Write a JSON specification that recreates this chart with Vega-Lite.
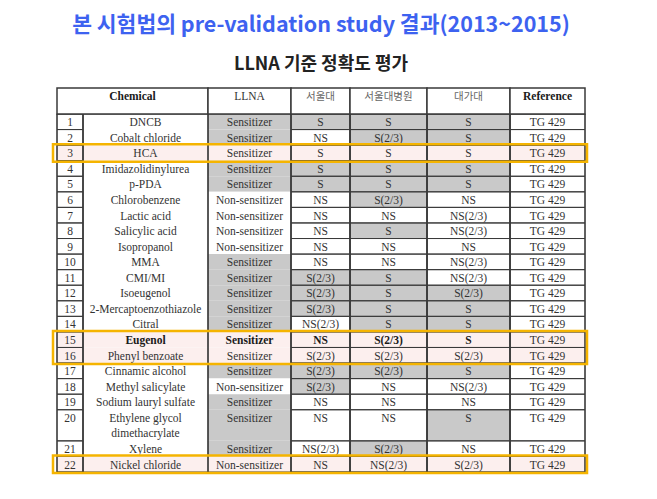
{
  "$schema": "https://vega.github.io/schema/vega-lite/v6.json",
  "width": 528,
  "height": 384,
  "autosize": {"type": "none"},
  "padding": {"left": 57, "top": 88, "right": 72, "bottom": 27},
  "background": "#ffffff",
  "config": {"view": {"stroke": null}},
  "title": {
    "text": "본 시험법의 pre-validation study 결과(2013~2015)",
    "subtitle": "LLNA 기준 정확도 평가",
    "anchor": "middle",
    "font": "Noto Sans CJK KR",
    "fontSize": 21.5,
    "fontWeight": "bold",
    "color": "#3d62f0",
    "subtitleFont": "Noto Sans CJK KR",
    "subtitleFontSize": 18,
    "subtitleFontWeight": "bold",
    "subtitleColor": "#222222",
    "subtitlePadding": 20,
    "offset": 13
  },
  "datasets": {
    "chemicals": [
      {"no": 1, "chemical": "DNCB", "llna": "Sensitizer", "snu": "S", "snuh": "S", "cu": "S", "ref": "TG 429", "lines": 1, "box": null, "bold": false},
      {"no": 2, "chemical": "Cobalt  chloride", "llna": "Sensitizer", "snu": "NS", "snuh": "S(2/3)", "cu": "S", "ref": "TG 429", "lines": 1, "box": null, "bold": false},
      {"no": 3, "chemical": "HCA", "llna": "Sensitizer", "snu": "S", "snuh": "S", "cu": "S", "ref": "TG 429", "lines": 1, "box": "A", "bold": false},
      {"no": 4, "chemical": "Imidazolidinylurea", "llna": "Sensitizer", "snu": "S", "snuh": "S", "cu": "S", "ref": "TG 429", "lines": 1, "box": null, "bold": false},
      {"no": 5, "chemical": "p-PDA", "llna": "Sensitizer", "snu": "S", "snuh": "S", "cu": "S", "ref": "TG 429", "lines": 1, "box": null, "bold": false},
      {"no": 6, "chemical": "Chlorobenzene", "llna": "Non-sensitizer", "snu": "NS", "snuh": "S(2/3)", "cu": "NS", "ref": "TG 429", "lines": 1, "box": null, "bold": false},
      {"no": 7, "chemical": "Lactic  acid", "llna": "Non-sensitizer", "snu": "NS", "snuh": "NS", "cu": "NS(2/3)", "ref": "TG 429", "lines": 1, "box": null, "bold": false},
      {"no": 8, "chemical": "Salicylic  acid", "llna": "Non-sensitizer", "snu": "NS", "snuh": "S", "cu": "NS(2/3)", "ref": "TG 429", "lines": 1, "box": null, "bold": false},
      {"no": 9, "chemical": "Isopropanol", "llna": "Non-sensitizer", "snu": "NS", "snuh": "NS", "cu": "NS", "ref": "TG 429", "lines": 1, "box": null, "bold": false},
      {"no": 10, "chemical": "MMA", "llna": "Sensitizer", "snu": "NS", "snuh": "NS", "cu": "NS(2/3)", "ref": "TG 429", "lines": 1, "box": null, "bold": false},
      {"no": 11, "chemical": "CMI/MI", "llna": "Sensitizer", "snu": "S(2/3)", "snuh": "S", "cu": "NS(2/3)", "ref": "TG 429", "lines": 1, "box": null, "bold": false},
      {"no": 12, "chemical": "Isoeugenol", "llna": "Sensitizer", "snu": "S(2/3)", "snuh": "S", "cu": "S(2/3)", "ref": "TG 429", "lines": 1, "box": null, "bold": false},
      {"no": 13, "chemical": "2-Mercaptoenzothiazole", "llna": "Sensitizer", "snu": "S(2/3)", "snuh": "S", "cu": "S", "ref": "TG 429", "lines": 1, "box": null, "bold": false},
      {"no": 14, "chemical": "Citral", "llna": "Sensitizer", "snu": "NS(2/3)", "snuh": "S", "cu": "S", "ref": "TG 429", "lines": 1, "box": null, "bold": false},
      {"no": 15, "chemical": "Eugenol", "llna": "Sensitizer", "snu": "NS", "snuh": "S(2/3)", "cu": "S", "ref": "TG 429", "lines": 1, "box": "B", "bold": true},
      {"no": 16, "chemical": "Phenyl  benzoate", "llna": "Sensitizer", "snu": "S(2/3)", "snuh": "S(2/3)", "cu": "S(2/3)", "ref": "TG 429", "lines": 1, "box": "B", "bold": false},
      {"no": 17, "chemical": "Cinnamic  alcohol", "llna": "Sensitizer", "snu": "S(2/3)", "snuh": "S(2/3)", "cu": "S", "ref": "TG 429", "lines": 1, "box": null, "bold": false},
      {"no": 18, "chemical": "Methyl  salicylate", "llna": "Non-sensitizer", "snu": "S(2/3)", "snuh": "NS", "cu": "NS(2/3)", "ref": "TG 429", "lines": 1, "box": null, "bold": false},
      {"no": 19, "chemical": "Sodium  lauryl  sulfate", "llna": "Sensitizer", "snu": "NS", "snuh": "NS", "cu": "NS", "ref": "TG 429", "lines": 1, "box": null, "bold": false},
      {"no": 20, "chemical": "Ethylene  glycol\ndimethacrylate", "llna": "Sensitizer", "snu": "NS", "snuh": "NS", "cu": "S", "ref": "TG 429", "lines": 2, "box": null, "bold": false},
      {"no": 21, "chemical": "Xylene", "llna": "Sensitizer", "snu": "NS(2/3)", "snuh": "S(2/3)", "cu": "NS", "ref": "TG 429", "lines": 1, "box": null, "bold": false},
      {"no": 22, "chemical": "Nickel  chloride", "llna": "Non-sensitizer", "snu": "NS", "snuh": "NS(2/3)", "cu": "S(2/3)", "ref": "TG 429", "lines": 1, "box": "C", "bold": false}
    ],
    "columns": [
      {"key": "no", "x0": 0, "x1": 26, "lined": true},
      {"key": "chemical", "x0": 26, "x1": 151, "lined": false},
      {"key": "llna", "x0": 151, "x1": 234, "lined": false},
      {"key": "snu", "x0": 234, "x1": 293, "lined": true},
      {"key": "snuh", "x0": 293, "x1": 370, "lined": true},
      {"key": "cu", "x0": 370, "x1": 453, "lined": true},
      {"key": "ref", "x0": 453, "x1": 528, "lined": true}
    ],
    "header": [
      {"label": "Chemical", "x0": 0, "x1": 151},
      {"label": "LLNA", "x0": 151, "x1": 234},
      {"label": "서울대", "x0": 234, "x1": 293},
      {"label": "서울대병원", "x0": 293, "x1": 370},
      {"label": "대가대", "x0": 370, "x1": 453},
      {"label": "Reference", "x0": 453, "x1": 528}
    ]
  },
  "layer": [
    {
      "data": {"name": "chemicals"},
      "transform": [
        {"window": [{"op": "sum", "field": "lines", "as": "cum"}], "sort": [{"field": "no"}], "frame": [null, 0]},
        {"calculate": "datum.cum - datum.lines", "as": "r0"},
        {"calculate": "datum.cum", "as": "r1"},
        {"fold": ["no", "chemical", "llna", "snu", "snuh", "cu", "ref"], "as": ["key", "value"]},
        {"lookup": "key", "from": {"data": {"name": "columns"}, "key": "key", "fields": ["x0", "x1", "lined"]}},
        {"calculate": "datum.box ? 'pink' : ((indexof(['llna','snu','snuh','cu'], datum.key) >= 0 && test(/^S/, '' + datum.value)) ? 'gray' : 'white')", "as": "shade"},
        {"calculate": "(datum.x0 + datum.x1) / 2", "as": "xm"},
        {"calculate": "datum.r0 + 0.2", "as": "ty"},
        {"calculate": "'' + datum.value", "as": "label"},
        {"calculate": "datum.bold && datum.key !== 'no' && datum.key !== 'ref'", "as": "strong"}
      ],
      "layer": [
        {
          "mark": {"type": "rect", "strokeWidth": 0},
          "encoding": {
            "x": {"field": "x0", "type": "quantitative", "scale": {"domain": [0, 528], "nice": false, "zero": false}, "axis": null},
            "x2": {"field": "x1"},
            "y": {"field": "r0", "type": "quantitative", "scale": {"domain": [-1.67, 23], "nice": false, "zero": false, "reverse": true}, "axis": null},
            "y2": {"field": "r1"},
            "fill": {"field": "shade", "type": "nominal", "scale": {"domain": ["white", "gray", "pink"], "range": ["#ffffff", "#c9c9c9", "#fcefee"]}, "legend": null}
          }
        },
        {
          "transform": [{"filter": "datum.lined"}],
          "mark": {"type": "rect", "fill": "#ffffff", "fillOpacity": 0, "stroke": "#3a3a3a", "strokeWidth": 1},
          "encoding": {
            "x": {"field": "x0", "type": "quantitative"},
            "x2": {"field": "x1"},
            "y": {"field": "r0", "type": "quantitative"},
            "y2": {"field": "r1"}
          }
        },
        {
          "transform": [{"filter": "!datum.strong"}],
          "mark": {"type": "text", "font": "Liberation Serif", "fontSize": 11.5, "color": "#333333", "baseline": "top", "align": "center", "lineBreak": "\n", "lineHeight": 15},
          "encoding": {
            "x": {"field": "xm", "type": "quantitative"},
            "y": {"field": "ty", "type": "quantitative"},
            "text": {"field": "label", "type": "nominal"}
          }
        },
        {
          "transform": [{"filter": "datum.strong"}],
          "mark": {"type": "text", "font": "Liberation Serif", "fontSize": 11.5, "fontWeight": "bold", "color": "#1a1a1a", "baseline": "top", "align": "center"},
          "encoding": {
            "x": {"field": "xm", "type": "quantitative"},
            "y": {"field": "ty", "type": "quantitative"},
            "text": {"field": "label", "type": "nominal"}
          }
        }
      ]
    },
    {
      "data": {"name": "columns"},
      "mark": {"type": "rect", "fill": "#ffffff", "fillOpacity": 0, "stroke": "#3a3a3a", "strokeWidth": 1.2},
      "encoding": {
        "x": {"field": "x0", "type": "quantitative"},
        "x2": {"field": "x1"},
        "y": {"datum": 0, "type": "quantitative"},
        "y2": {"datum": 23}
      }
    },
    {
      "data": {"name": "header"},
      "transform": [{"calculate": "(datum.x0 + datum.x1) / 2", "as": "xm"}],
      "layer": [
        {
          "mark": {"type": "rect", "fill": "#ffffff", "stroke": "#3a3a3a", "strokeWidth": 1.5},
          "encoding": {
            "x": {"field": "x0", "type": "quantitative"},
            "x2": {"field": "x1"},
            "y": {"datum": -1.67, "type": "quantitative"},
            "y2": {"datum": 0}
          }
        },
        {
          "transform": [{"filter": "datum.label === 'Chemical' || datum.label === 'Reference'"}],
          "mark": {"type": "text", "font": "Liberation Serif", "fontSize": 11.5, "fontWeight": "bold", "color": "#1a1a1a", "baseline": "middle", "align": "center"},
          "encoding": {
            "x": {"field": "xm", "type": "quantitative"},
            "y": {"datum": -1.1, "type": "quantitative"},
            "text": {"field": "label", "type": "nominal"}
          }
        },
        {
          "transform": [{"filter": "datum.label === 'LLNA'"}],
          "mark": {"type": "text", "font": "Liberation Serif", "fontSize": 11.5, "color": "#333333", "baseline": "middle", "align": "center"},
          "encoding": {
            "x": {"field": "xm", "type": "quantitative"},
            "y": {"datum": -1.1, "type": "quantitative"},
            "text": {"field": "label", "type": "nominal"}
          }
        },
        {
          "transform": [{"filter": "test(/[가-힣]/, datum.label)"}],
          "mark": {"type": "text", "font": "Noto Sans CJK KR", "fontSize": 10.5, "color": "#666666", "baseline": "middle", "align": "center"},
          "encoding": {
            "x": {"field": "xm", "type": "quantitative"},
            "y": {"datum": -1.1, "type": "quantitative"},
            "text": {"field": "label", "type": "nominal"}
          }
        }
      ]
    },
    {
      "data": {"name": "chemicals"},
      "transform": [
        {"window": [{"op": "sum", "field": "lines", "as": "cum"}], "sort": [{"field": "no"}], "frame": [null, 0]},
        {"calculate": "datum.cum - datum.lines", "as": "r0"},
        {"filter": "datum.box"},
        {"aggregate": [{"op": "min", "field": "r0", "as": "b0"}, {"op": "max", "field": "cum", "as": "b1"}], "groupby": ["box"]}
      ],
      "mark": {"type": "rect", "fill": "#ffffff", "fillOpacity": 0, "stroke": "#f5b400", "strokeWidth": 2.5, "yOffset": -1, "y2Offset": 1},
      "encoding": {
        "x": {"datum": -4, "type": "quantitative"},
        "x2": {"datum": 530},
        "y": {"field": "b0", "type": "quantitative"},
        "y2": {"field": "b1"}
      }
    }
  ]
}
